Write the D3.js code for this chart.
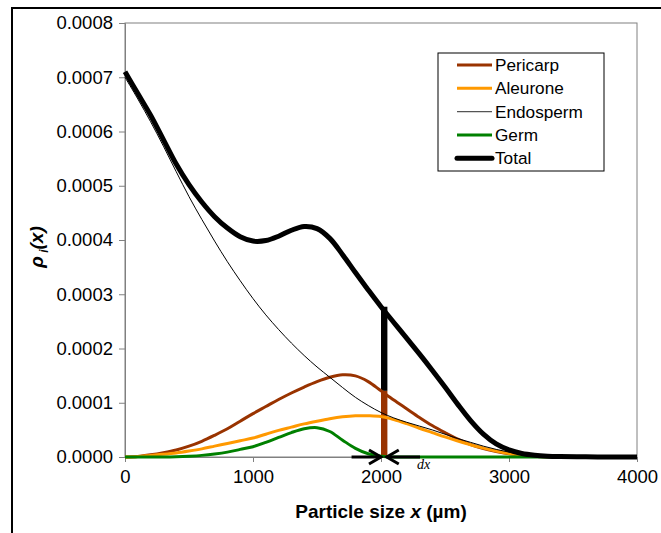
<!DOCTYPE html>
<html>
<head>
<meta charset="utf-8">
<script src="https://cdn.jsdelivr.net/npm/d3@7"></script>
<style>
  html, body { margin: 0; padding: 0; background: #fff; }
  svg { display: block; }
  text { font-family: "Liberation Sans", Arial, sans-serif; }
</style>
</head>
<body>
<svg id="chart" width="661" height="533"></svg>
<script>
// ---- data ----
const xs        = [0, 100, 200, 300, 400, 500, 600, 700, 800, 900, 1000, 1100, 1200, 1300, 1400, 1500, 1600, 1700, 1800, 1900, 2000, 2100, 2200, 2300, 2400, 2500, 2600, 2700, 2800, 2900, 3000, 3100, 3200, 3300, 3400, 3600, 3800, 4000];
const pericarp  = [0e-6, 1e-6, 4e-6, 8e-6, 13e-6, 20e-6, 29e-6, 40e-6, 52e-6, 66e-6, 80e-6, 93e-6, 106e-6, 118e-6, 129e-6, 139e-6, 147e-6, 151.5e-6, 149.5e-6, 139e-6, 122e-6, 105e-6, 89e-6, 73e-6, 58e-6, 45e-6, 33e-6, 23e-6, 15.5e-6, 10e-6, 6e-6, 3.5e-6, 2e-6, 1e-6, 0.5e-6, 0, 0, 0];
const aleurone  = [0e-6, 1e-6, 3e-6, 5e-6, 7.5e-6, 11e-6, 15e-6, 20e-6, 25e-6, 30e-6, 35e-6, 42e-6, 49e-6, 55e-6, 61e-6, 66e-6, 70.5e-6, 74e-6, 76e-6, 76e-6, 74.5e-6, 69e-6, 61.5e-6, 53e-6, 45e-6, 37e-6, 29.5e-6, 22.5e-6, 16.5e-6, 11e-6, 6.5e-6, 3.5e-6, 1.5e-6, 0.5e-6, 0, 0, 0, 0];
const endosperm = [700e-6, 660e-6, 618e-6, 573e-6, 526e-6, 480e-6, 438e-6, 398e-6, 360e-6, 325e-6, 292e-6, 262e-6, 235e-6, 210e-6, 187e-6, 166e-6, 147e-6, 128e-6, 110e-6, 95e-6, 82e-6, 72e-6, 64e-6, 57e-6, 50e-6, 42e-6, 34e-6, 27e-6, 20e-6, 14e-6, 9e-6, 5e-6, 3e-6, 1.5e-6, 0.5e-6, 0, 0, 0];
const germ      = [0, 0, 0, 0, 0.5e-6, 1.5e-6, 3e-6, 5.5e-6, 9e-6, 14e-6, 19e-6, 27e-6, 36e-6, 45e-6, 52e-6, 54e-6, 47e-6, 31e-6, 16e-6, 6e-6, 1.5e-6, 0, 0, 0, 0, 0, 0, 0, 0, 0, 0, 0, 0, 0, 0, 0, 0, 0];
const total     = [710e-6, 670e-6, 630e-6, 585e-6, 540e-6, 502e-6, 470e-6, 443e-6, 422e-6, 406e-6, 398e-6, 399e-6, 407e-6, 418e-6, 425e-6, 421e-6, 403e-6, 373e-6, 340e-6, 308e-6, 277e-6, 248e-6, 219e-6, 190e-6, 160e-6, 129e-6, 97e-6, 67e-6, 42e-6, 24e-6, 13e-6, 6.5e-6, 3.2e-6, 1.5e-6, 0.8e-6, 0.3e-6, 0.1e-6, 0];

const seriesNames  = ["Pericarp", "Aleurone", "Endosperm", "Germ", "Total"];
const xTicks = [0, 1000, 2000, 3000, 4000];
const yTicks = [0, 0.0001, 0.0002, 0.0003, 0.0004, 0.0005, 0.0006, 0.0007, 0.0008];

// annotation: slice of width dx at x = 2000
const sliceX  = 2000;
const sliceDx = 50;
const arrowLeft  = [1770, 2000];   // shaft start -> tip
const arrowRight = [2305, 2045];   // shaft start -> tip

// ---- layout ----
const svg = d3.select("#chart");
const L = 125, R = 637, T = 23, B = 457;

const x = d3.scaleLinear().domain([0, 4000]).range([L, R]);
const y = d3.scaleLinear().domain([0, 0.0008]).range([B, T]);

// outer frame (extends beyond the picture on right/bottom)
svg.append("path")
  .attr("d", `M12,540 L12,8 L670,8`)
  .attr("fill", "none").attr("stroke", "#000").attr("stroke-width", 2);

// plot border
svg.append("rect")
  .attr("x", L).attr("y", T).attr("width", R - L).attr("height", B - T)
  .attr("fill", "none").attr("stroke", "#808080").attr("stroke-width", 1);

// axes
const yAxis = d3.axisLeft(y).tickValues(yTicks).tickFormat(d3.format(".4f")).tickSize(6).tickPadding(6);
const xAxis = d3.axisBottom(x).tickValues(xTicks).tickFormat(d3.format("d")).tickSize(5).tickPadding(8);

const gy = svg.append("g").attr("transform", `translate(${L},0)`).call(yAxis);
const gx = svg.append("g").attr("transform", `translate(0,${B})`).call(xAxis);
[gx, gy].forEach(g => {
  g.select(".domain").attr("stroke", "#808080");
  g.selectAll(".tick line").attr("stroke", "#808080");
  g.selectAll(".tick text").attr("fill", "#000").style("font-size", "18.5px")
    .style("font-family", "'Liberation Sans', Arial, sans-serif");
});

const line = d3.line().x((d, i) => x(xs[i])).y(d => y(Math.max(0, d))).curve(d3.curveCatmullRom.alpha(0.5));

const styles = {
  Pericarp:  { data: pericarp,  color: "#993300", w: 3 },
  Aleurone:  { data: aleurone,  color: "#FF9900", w: 3 },
  Endosperm: { data: endosperm, color: "#000000", w: 1 },
  Germ:      { data: germ,      color: "#008000", w: 3 },
  Total:     { data: total,     color: "#000000", w: 5 }
};

// slice bars at x = 2000
const iSlice = xs.indexOf(sliceX);
svg.append("rect")
  .attr("x", x(sliceX)).attr("width", x(sliceX + sliceDx) - x(sliceX))
  .attr("y", y(pericarp[iSlice])).attr("height", y(0) - y(pericarp[iSlice]))
  .attr("fill", "#993300");
svg.append("rect")
  .attr("x", x(sliceX)).attr("width", x(sliceX + sliceDx) - x(sliceX))
  .attr("y", y(total[iSlice])).attr("height", y(pericarp[iSlice]) - y(total[iSlice]))
  .attr("fill", "#000");

// curves
["Pericarp", "Aleurone", "Endosperm", "Germ", "Total"].forEach(name => {
  const s = styles[name];
  svg.append("path")
    .attr("d", line(s.data))
    .attr("fill", "none")
    .attr("stroke", s.color)
    .attr("stroke-width", s.w)
    .attr("stroke-linejoin", "round");
});

// dx arrows
function arrow(a) {
  const x0 = x(a[0]), x1 = x(a[1]), yy = y(0);
  const dir = Math.sign(x1 - x0);
  svg.append("line").attr("x1", x0).attr("x2", x1).attr("y1", yy).attr("y2", yy)
    .attr("stroke", "#000").attr("stroke-width", 3);
  svg.append("path")
    .attr("d", `M${x1 - dir * 12},${yy - 7} L${x1},${yy} L${x1 - dir * 12},${yy + 7}`)
    .attr("fill", "none").attr("stroke", "#000").attr("stroke-width", 3)
    .attr("stroke-linejoin", "miter");
}
arrow(arrowLeft);
arrow(arrowRight);

svg.append("text")
  .attr("x", 417).attr("y", 469)
  .style("font-family", "'Liberation Serif', 'Times New Roman', serif")
  .style("font-style", "italic").style("font-size", "14px")
  .text("dx");

// axis titles
const xt = svg.append("text")
  .attr("x", 381).attr("y", 518).attr("text-anchor", "middle")
  .style("font-weight", "bold").style("font-size", "19px");
xt.append("tspan").text("Particle size ");
xt.append("tspan").style("font-style", "italic").text("x");
xt.append("tspan").text(" (\u00b5m)");

const yt = svg.append("text")
  .attr("transform", "translate(43,247) rotate(-90)")
  .attr("text-anchor", "middle")
  .style("font-weight", "bold").style("font-size", "19px").style("font-style", "italic");
yt.append("tspan").text("\u03c1");
yt.append("tspan").attr("dy", 5).style("font-size", "12px").text(" i");
yt.append("tspan").attr("dy", -5).text("(x)");

// legend
const lg = svg.append("g");
lg.append("rect").attr("x", 438).attr("y", 53).attr("width", 166).attr("height", 118)
  .attr("fill", "#fff").attr("stroke", "#000").attr("stroke-width", 1);
seriesNames.forEach((name, i) => {
  const s = styles[name];
  const cy = 65 + i * 23.3;
  lg.append("line").attr("x1", 457).attr("x2", 492).attr("y1", cy).attr("y2", cy)
    .attr("stroke", name === "Endosperm" ? "#555" : s.color)
    .attr("stroke-width", name === "Total" ? 5 : (name === "Endosperm" ? 1.2 : 3))
    .attr("stroke-linecap", name === "Total" ? "round" : "butt");
  lg.append("text").attr("x", 495).attr("y", cy + 6)
    .style("font-size", "17.2px").text(name);
});
</script>
</body>
</html>
